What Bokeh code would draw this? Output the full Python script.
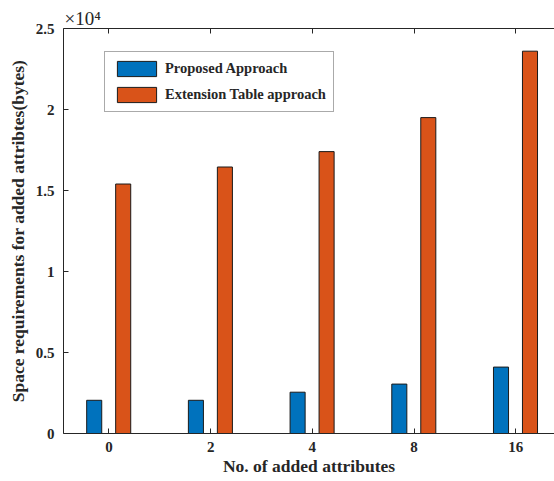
from bokeh.plotting import figure
from bokeh.models import ColumnDataSource, LinearAxis, Range1d, Legend, LegendItem, FixedTicker
from bokeh.transform import dodge
from bokeh.embed import file_html
from bokeh.resources import INLINE

categories = ["0", "2", "4", "8", "16"]
proposed = [2050, 2050, 2550, 3050, 4100]
extension = [15400, 16450, 17400, 19500, 23600]
y_ticks = [0, 5000, 10000, 15000, 20000, 25000]
y_tick_labels = ["0", "0.5", "1", "1.5", "2", "2.5"]
exponent_text = "×10⁴"

xs = list(range(1, len(categories) + 1))
src = ColumnDataSource(dict(x=xs, p=proposed, e=extension))

FONT = "Liberation Serif"
AX = "#262626"

p = figure(width=554, height=481, output_backend="svg", toolbar_location=None,
           x_range=Range1d(0.553, 5.381), y_range=Range1d(0, 25000),
           min_border_left=63, min_border_top=28, min_border_bottom=48, min_border_right=0,
           title=exponent_text)
p.outline_line_color = None
p.grid.visible = False
p.background_fill_color = "white"
p.border_fill_color = "white"
p.title.text_font = FONT
p.title.text_font_size = "19px"
p.title.text_font_style = "normal"
p.title.text_color = AX
p.title.align = "left"
p.title.offset = 1
p.title.standoff = 0

r1 = p.vbar(x=dodge("x", -0.145, range=p.x_range), top="p", source=src, width=0.148,
            fill_color="#0072BD", line_color="#1a1a1a", line_width=1)
r2 = p.vbar(x=dodge("x", 0.14, range=p.x_range), top="e", source=src, width=0.148,
            fill_color="#D95319", line_color="#1a1a1a", line_width=1)

xa = p.xaxis[0]
xa.ticker = FixedTicker(ticks=xs)
xa.major_label_overrides = {x: c for x, c in zip(xs, categories)}
xa.axis_label = "No. of added attributes"
ya = p.yaxis[0]
ya.ticker = FixedTicker(ticks=y_ticks)
ya.major_label_overrides = {t: l for t, l in zip(y_ticks, y_tick_labels)}
ya.axis_label = "Space requirements for added attribtes(bytes)"

for ax in (xa, ya):
    ax.major_tick_in = 5
    ax.major_tick_out = 0
    ax.minor_tick_in = 0
    ax.minor_tick_out = 0
    ax.axis_line_color = AX
    ax.major_tick_line_color = AX
    ax.major_label_text_font = FONT
    ax.major_label_text_font_style = "bold"
    ax.major_label_text_font_size = "15px"
    ax.major_label_text_color = AX
    ax.axis_label_text_font = FONT
    ax.axis_label_text_font_style = "bold"
    ax.axis_label_text_font_size = "17.5px"
    ax.axis_label_text_color = AX
xa.major_label_standoff = 8
xa.axis_label_standoff = 1
ya.major_label_standoff = 9
ya.axis_label_standoff = 5

top = LinearAxis(ticker=FixedTicker(ticks=xs), major_label_overrides={x: "" for x in xs},
                 major_tick_in=5, major_tick_out=0, minor_tick_in=0, minor_tick_out=0,
                 axis_line_color=AX, major_tick_line_color=AX, major_label_standoff=0)
p.add_layout(top, "above")

legend = Legend(items=[LegendItem(label="Proposed Approach", renderers=[r1]),
                       LegendItem(label="Extension Table approach", renderers=[r2])],
                location=(41, 321), glyph_width=49, glyph_height=19, label_standoff=4,
                spacing=7, padding=7, margin=0,
                label_text_font=FONT, label_text_font_style="bold", label_text_font_size="14.5px",
                label_text_color=AX, border_line_color="#555555", border_line_width=1,
                background_fill_alpha=1)
p.add_layout(legend, "center")

open("out.html", "w").write(file_html(p, INLINE))
